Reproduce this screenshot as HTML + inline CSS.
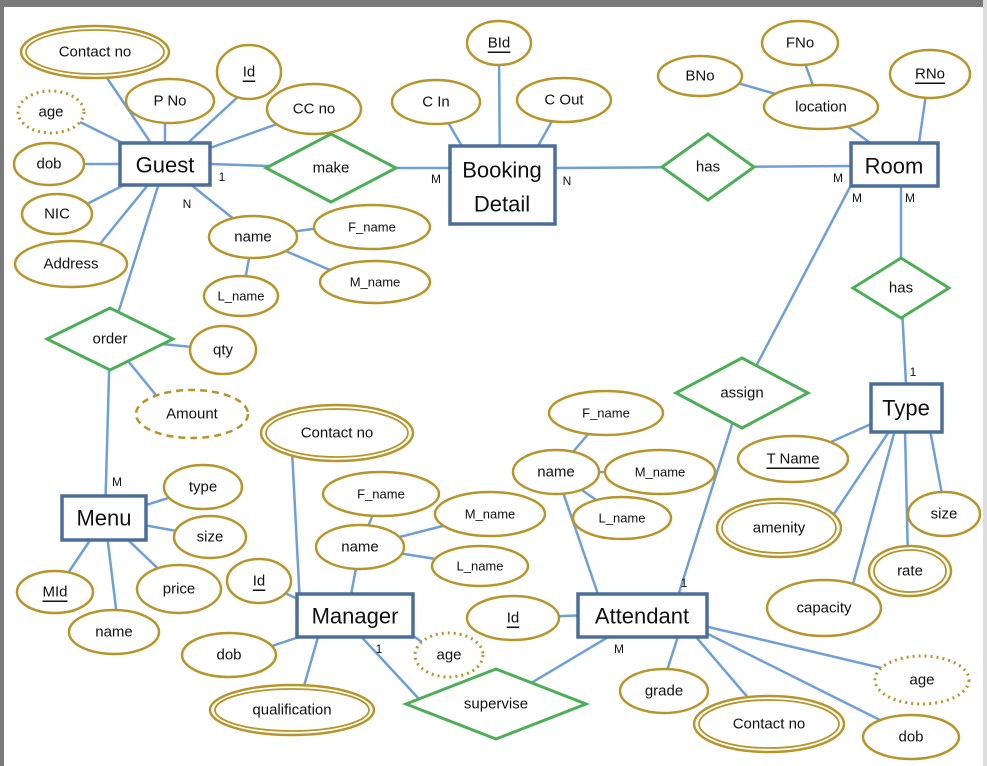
<!DOCTYPE html>
<html><head><meta charset="utf-8"><style>
html,body{margin:0;padding:0;background:#fff}
svg{display:block}
text{font-family:"Liberation Sans",sans-serif;fill:#111;text-anchor:middle;dominant-baseline:central}
.l{stroke:#6e9fd6;stroke-width:2.5;fill:none}
.e{fill:#fff;stroke:#b8952b;stroke-width:2.5}
.d{fill:#fff;stroke:#b8952b;stroke-width:3;stroke-dasharray:2 4}
.r{fill:#fff;stroke:#4b6e9b;stroke-width:3.5}
.g{fill:#fff;stroke:#4caf58;stroke-width:3}
.a{font-size:15px}
.n{font-size:22px}
.c{font-size:12px}
</style></head><body>
<svg width="987" height="766" viewBox="0 0 987 766">
<rect x="0" y="0" width="987" height="766" fill="#fff"/>
<rect x="0" y="0" width="987" height="7" fill="#7a7a7a"/>
<rect x="0" y="0" width="4" height="766" fill="#7a7a7a"/>
<rect x="983" y="0" width="4" height="766" fill="#ddd"/>
<g class="l">
<line x1="165" y1="164" x2="105" y2="75"/><line x1="165" y1="164" x2="80" y2="122"/>
<line x1="165" y1="164" x2="165" y2="120"/><line x1="165" y1="164" x2="240" y2="95"/>
<line x1="165" y1="164" x2="280" y2="123"/><line x1="165" y1="164" x2="82" y2="164"/>
<line x1="165" y1="164" x2="85" y2="205"/><line x1="165" y1="164" x2="95" y2="250"/>
<line x1="165" y1="164" x2="235" y2="220"/><line x1="253" y1="237" x2="320" y2="228"/>
<line x1="253" y1="237" x2="330" y2="270"/><line x1="253" y1="237" x2="245" y2="280"/>
<line x1="210" y1="164" x2="331" y2="168"/><line x1="331" y1="168" x2="450" y2="168"/>
<line x1="165" y1="164" x2="110" y2="339"/><line x1="110" y1="339" x2="105" y2="518"/>
<line x1="110" y1="339" x2="223" y2="350"/><line x1="110" y1="339" x2="160" y2="400"/>
<line x1="500" y1="185" x2="499" y2="50"/><line x1="470" y1="160" x2="436" y2="102"/>
<line x1="530" y1="160" x2="564" y2="100"/><line x1="555" y1="168" x2="851" y2="166"/>
<line x1="880" y1="150" x2="821" y2="107"/><line x1="821" y1="107" x2="800" y2="50"/>
<line x1="821" y1="107" x2="720" y2="78"/><line x1="918" y1="150" x2="928" y2="80"/>
<line x1="901" y1="185" x2="901" y2="288"/><line x1="901" y1="288" x2="906" y2="384"/>
<line x1="850" y1="187" x2="742" y2="393"/><line x1="742" y1="393" x2="678" y2="596"/>
<line x1="880" y1="420" x2="793" y2="459"/><line x1="890" y1="430" x2="830" y2="520"/>
<line x1="895" y1="430" x2="850" y2="595"/><line x1="905" y1="430" x2="908" y2="560"/>
<line x1="930" y1="430" x2="944" y2="505"/>
<line x1="105" y1="518" x2="203" y2="487"/><line x1="105" y1="518" x2="210" y2="537"/>
<line x1="105" y1="518" x2="170" y2="580"/><line x1="105" y1="518" x2="60" y2="585"/>
<line x1="105" y1="518" x2="118" y2="625"/>
<line x1="300" y1="605" x2="292" y2="450"/><line x1="360" y1="547" x2="381" y2="494"/>
<line x1="360" y1="547" x2="490" y2="514"/><line x1="360" y1="547" x2="480" y2="566"/>
<line x1="360" y1="547" x2="350" y2="600"/><line x1="300" y1="600" x2="259" y2="581"/>
<line x1="320" y1="630" x2="260" y2="650"/><line x1="405" y1="630" x2="440" y2="655"/>
<line x1="320" y1="630" x2="300" y2="700"/><line x1="355" y1="630" x2="420" y2="700"/>
<line x1="496" y1="704" x2="620" y2="630"/>
<line x1="600" y1="600" x2="556" y2="472"/><line x1="556" y1="472" x2="606" y2="413"/>
<line x1="556" y1="472" x2="660" y2="472"/><line x1="556" y1="472" x2="622" y2="518"/>
<line x1="590" y1="615" x2="513" y2="618"/><line x1="680" y1="630" x2="664" y2="680"/>
<line x1="690" y1="630" x2="750" y2="700"/><line x1="700" y1="625" x2="890" y2="670"/>
<line x1="700" y1="630" x2="880" y2="720"/>
</g>
<!-- double ellipses -->
<ellipse class="e" cx="95" cy="52" rx="74" ry="26"/><ellipse class="e" cx="95" cy="52" rx="69" ry="22" style="stroke-width:1.8"/>
<ellipse class="e" cx="337" cy="433" rx="76" ry="28"/><ellipse class="e" cx="337" cy="433" rx="71" ry="24" style="stroke-width:1.8"/>
<ellipse class="e" cx="292" cy="710" rx="82" ry="25"/><ellipse class="e" cx="292" cy="710" rx="77" ry="21" style="stroke-width:1.8"/>
<ellipse class="e" cx="769" cy="724" rx="75" ry="28"/><ellipse class="e" cx="769" cy="724" rx="70" ry="24" style="stroke-width:1.8"/>
<ellipse class="e" cx="779" cy="528" rx="62" ry="29"/><ellipse class="e" cx="779" cy="528" rx="57" ry="25" style="stroke-width:1.8"/>
<ellipse class="e" cx="910" cy="571" rx="41" ry="25"/><ellipse class="e" cx="910" cy="571" rx="36" ry="21" style="stroke-width:1.8"/>
<!-- dotted -->
<ellipse class="d" cx="51" cy="112" rx="33" ry="21"/>
<ellipse class="d" cx="449" cy="655" rx="34" ry="22"/>
<ellipse class="d" cx="922" cy="680" rx="47" ry="24"/>
<ellipse class="e" cx="192" cy="414" rx="56" ry="24" style="stroke-dasharray:7 5"/>
<!-- plain -->
<g class="e">
<ellipse cx="170" cy="101" rx="44" ry="22"/><ellipse cx="249" cy="72" rx="32" ry="27"/>
<ellipse cx="314" cy="109" rx="47" ry="25"/><ellipse cx="49" cy="164" rx="35" ry="21"/>
<ellipse cx="57" cy="214" rx="35" ry="20"/><ellipse cx="71" cy="264" rx="56" ry="23"/>
<ellipse cx="253" cy="237" rx="44" ry="21"/><ellipse cx="372" cy="227" rx="58" ry="22"/>
<ellipse cx="375" cy="282" rx="55" ry="21"/><ellipse cx="241" cy="296" rx="37" ry="20"/>
<ellipse cx="499" cy="43" rx="32" ry="22"/><ellipse cx="436" cy="102" rx="44" ry="22"/>
<ellipse cx="564" cy="100" rx="47" ry="22"/><ellipse cx="800" cy="43" rx="38" ry="22"/>
<ellipse cx="700" cy="76" rx="42" ry="20"/><ellipse cx="821" cy="107" rx="57" ry="22"/>
<ellipse cx="930" cy="74" rx="40" ry="24"/><ellipse cx="793" cy="459" rx="55" ry="23"/>
<ellipse cx="944" cy="514" rx="36" ry="22"/><ellipse cx="824" cy="608" rx="57" ry="28"/>
<ellipse cx="606" cy="413" rx="57" ry="22"/><ellipse cx="556" cy="472" rx="43" ry="22"/>
<ellipse cx="660" cy="472" rx="55" ry="22"/><ellipse cx="622" cy="518" rx="49" ry="21"/>
<ellipse cx="513" cy="618" rx="46" ry="22"/><ellipse cx="664" cy="691" rx="44" ry="22"/>
<ellipse cx="911" cy="737" rx="48" ry="22"/>
<ellipse cx="381" cy="494" rx="58" ry="22"/><ellipse cx="490" cy="514" rx="55" ry="22"/>
<ellipse cx="360" cy="547" rx="44" ry="22"/><ellipse cx="480" cy="566" rx="48" ry="20"/>
<ellipse cx="259" cy="581" rx="32" ry="22"/><ellipse cx="229" cy="655" rx="47" ry="22"/>
<ellipse cx="203" cy="487" rx="39" ry="22"/><ellipse cx="210" cy="537" rx="36" ry="21"/>
<ellipse cx="179" cy="589" rx="42" ry="24"/><ellipse cx="55" cy="592" rx="38" ry="21"/>
<ellipse cx="114" cy="632" rx="45" ry="22"/><ellipse cx="223" cy="350" rx="33" ry="24"/>
</g>
<!-- diamonds -->
<g class="g">
<polygon points="266,168 331,134 396,168 331,202"/>
<polygon points="662,167 708,134 754,167 708,200"/>
<polygon points="853,288 901,258 949,288 901,318"/>
<polygon points="676,393 742,358 808,393 742,428"/>
<polygon points="406,704 496,669 586,704 496,739"/>
<polygon points="47,339 110,308 173,339 110,370"/>
</g>
<!-- entities -->
<g class="r">
<rect x="120" y="143" width="90" height="42"/>
<rect x="450" y="146" width="105" height="78"/>
<rect x="851" y="143" width="87" height="43"/>
<rect x="871" y="384" width="71" height="48"/>
<rect x="62" y="496" width="84" height="44"/>
<rect x="297" y="594" width="116" height="43"/>
<rect x="578" y="594" width="129" height="43"/>
</g>
<g class="n">
<text x="165" y="165">Guest</text>
<text x="502" y="170">Booking</text><text x="502" y="204">Detail</text>
<text x="894" y="166">Room</text><text x="906" y="408">Type</text>
<text x="104" y="518">Menu</text><text x="355" y="616">Manager</text>
<text x="642" y="616">Attendant</text>
</g>
<g class="a">
<text x="95" y="52">Contact no</text><text x="51" y="112">age</text>
<text x="170" y="101">P No</text><text x="249" y="72" text-decoration="underline">Id</text>
<text x="314" y="109">CC no</text><text x="49" y="164">dob</text>
<text x="57" y="214">NIC</text><text x="71" y="264">Address</text>
<text x="253" y="237">name</text><text x="372" y="227" class="c" style="font-size:13px">F_name</text>
<text x="375" y="282" style="font-size:13px">M_name</text><text x="241" y="296" style="font-size:13px">L_name</text>
<text x="331" y="168">make</text><text x="708" y="167">has</text><text x="901" y="288">has</text>
<text x="742" y="393">assign</text><text x="496" y="704">supervise</text><text x="110" y="339">order</text>
<text x="499" y="43" text-decoration="underline">BId</text><text x="436" y="102">C In</text>
<text x="564" y="100">C Out</text><text x="800" y="43">FNo</text><text x="700" y="76">BNo</text>
<text x="821" y="107">location</text><text x="930" y="74" text-decoration="underline">RNo</text>
<text x="793" y="459" text-decoration="underline">T Name</text><text x="779" y="528">amenity</text>
<text x="944" y="514">size</text><text x="910" y="571">rate</text><text x="824" y="608">capacity</text>
<text x="606" y="413" style="font-size:13px">F_name</text><text x="556" y="472">name</text>
<text x="660" y="472" style="font-size:13px">M_name</text><text x="622" y="518" style="font-size:13px">L_name</text>
<text x="513" y="618" text-decoration="underline">Id</text><text x="664" y="691">grade</text>
<text x="769" y="724">Contact no</text><text x="922" y="680">age</text><text x="911" y="737">dob</text>
<text x="337" y="433">Contact no</text><text x="381" y="494" style="font-size:13px">F_name</text>
<text x="490" y="514" style="font-size:13px">M_name</text><text x="360" y="547">name</text>
<text x="480" y="566" style="font-size:13px">L_name</text><text x="259" y="581" text-decoration="underline">Id</text>
<text x="229" y="655">dob</text><text x="449" y="655">age</text><text x="292" y="710">qualification</text>
<text x="203" y="487">type</text><text x="210" y="537">size</text><text x="179" y="589">price</text>
<text x="55" y="592" text-decoration="underline">MId</text><text x="114" y="632">name</text>
<text x="223" y="350">qty</text><text x="192" y="414">Amount</text>
</g>
<g class="c">
<text x="222" y="177">1</text><text x="187" y="204">N</text><text x="436" y="179">M</text>
<text x="567" y="181">N</text><text x="838" y="178">M</text><text x="857" y="198">M</text>
<text x="910" y="198">M</text><text x="913" y="372">1</text><text x="117" y="482">M</text>
<text x="684" y="583">1</text><text x="379" y="649">1</text><text x="619" y="649">M</text>
</g>
</svg>
</body></html>
